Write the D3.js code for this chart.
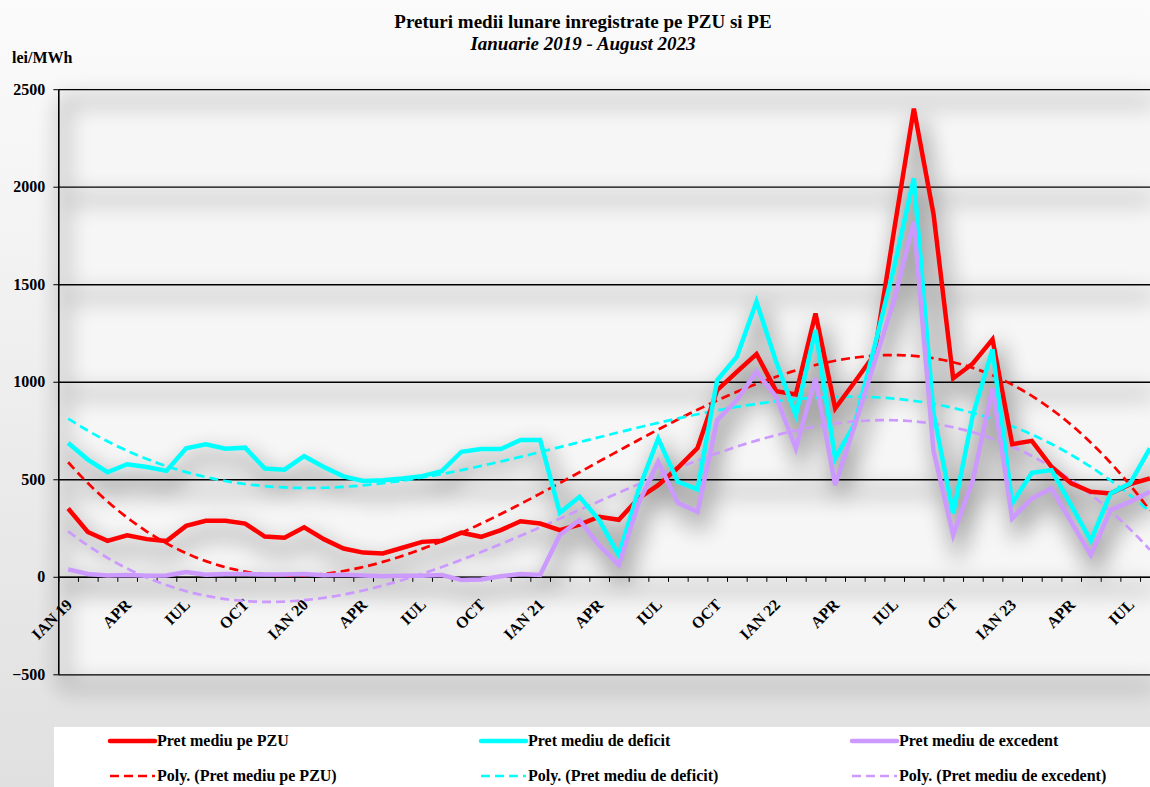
<!DOCTYPE html>
<html>
<head>
<meta charset="utf-8">
<script src="https://cdn.jsdelivr.net/npm/d3@7"></script>
<style>
  html, body { margin: 0; padding: 0; background: #f0f0f0; }
  svg { display: block; font-family: 'Liberation Serif', 'Times New Roman', serif; font-weight: bold; }
  svg text { font-family: 'Liberation Serif', 'Times New Roman', serif; }
</style>
</head>
<body>
<svg id="chart" width="1150" height="787"></svg>
<script>
// monthly averages, Jan 2019 .. Aug 2023 (lei/MWh)
const pzu = [350, 230, 184, 213, 193, 183, 261, 287, 287, 273, 206, 200,
  254, 193, 145, 124, 120, 149, 179, 185, 226, 205, 239, 285,
  273, 239, 268, 308, 292, 402, 470, 559, 660, 957, 1051, 1142,
  952, 935, 1350, 863, 1000, 1140, 1780, 2400, 1860, 1017, 1094, 1217,
  680, 697, 564, 479, 436, 427, 475, 504];
const deficit = [686, 601, 536, 577, 563, 543, 659, 679, 657, 662, 555, 549,
  618, 563, 515, 491, 495, 504, 516, 542, 641, 655, 655, 701,
  701, 328, 410, 291, 111, 444, 709, 487, 448, 1008, 1128, 1410,
  1102, 829, 1265, 607, 786, 1180, 1590, 2043, 840, 325, 829, 1166,
  376, 533, 547, 367, 185, 427, 479, 658];
const excedent = [38, 14, 7, 9, 5, 7, 24, 10, 14, 14, 12, 12,
  14, 8, 10, 7, 3, 5, 5, 9, -17, -14, 3, 14,
  9, 214, 291, 162, 60, 376, 590, 379, 333, 803, 906, 1051,
  923, 658, 1017, 470, 778, 1100, 1420, 1820, 645, 214, 496, 966,
  299, 402, 453, 282, 111, 342, 385, 436];

const months = d3.timeMonth.range(new Date(2019, 0, 1), new Date(2023, 8, 1));
const tickLabels = ['IAN 19', 'APR', 'IUL', 'OCT', 'IAN 20', 'APR', 'IUL', 'OCT',
  'IAN 21', 'APR', 'IUL', 'OCT', 'IAN 22', 'APR', 'IUL', 'OCT', 'IAN 23', 'APR', 'IUL'];
const yTicks = [-500, 0, 500, 1000, 1500, 2000, 2500];
const seriesNames = ['Pret mediu pe PZU', 'Pret mediu de deficit', 'Pret mediu de excedent'];
const seriesColors = ['#ff0000', '#00ffff', '#cc99ff'];
const trendOrder = 3;

const width = 1150;
const height = 787;
const plot = { left: 58.3, right: 1159.7, top: 89.2, bottom: 674.3 };

const svg = d3.select('#chart');

const x = d3.scaleBand()
  .domain(d3.range(months.length))
  .range([plot.left, plot.right]);
const xEdge = d3.scaleLinear()
  .domain([0, months.length])
  .range([plot.left, plot.right]);
const xCont = d3.scaleLinear()
  .domain([0, months.length - 1])
  .range([x(0) + x.bandwidth() / 2, x(months.length - 1) + x.bandwidth() / 2]);
const y = d3.scaleLinear()
  .domain([-500, 2500])
  .range([plot.bottom, plot.top]);

const series = [pzu, deficit, excedent].map((values, k) => ({
  name: seriesNames[k],
  color: seriesColors[k],
  values,
}));

// least squares polynomial, like the excel trendline
function polyfit(values, order) {
  const n = values.length;
  const mid = (n - 1) / 2;
  const ts = values.map((v, i) => (i - mid) / mid);
  const m = order + 1;
  const A = d3.range(m).map(() => new Array(m + 1).fill(0));
  ts.forEach((t, i) => {
    for (let r = 0; r < m; r++) {
      for (let c = 0; c < m; c++) A[r][c] += Math.pow(t, r + c);
      A[r][m] += values[i] * Math.pow(t, r);
    }
  });
  for (let c = 0; c < m; c++) {
    let p = c;
    for (let r = c + 1; r < m; r++) if (Math.abs(A[r][c]) > Math.abs(A[p][c])) p = r;
    [A[c], A[p]] = [A[p], A[c]];
    for (let r = 0; r < m; r++) {
      if (r === c) continue;
      const f = A[r][c] / A[c][c];
      for (let k = c; k <= m; k++) A[r][k] -= f * A[c][k];
    }
  }
  const coef = d3.range(m).map((r) => A[r][m] / A[r][r]);
  return (i) => {
    const t = (i - mid) / mid;
    return coef.reduce((s, a, k) => s + a * Math.pow(t, k), 0);
  };
}

// background
const defs = svg.append('defs');
const bg = defs.append('linearGradient').attr('id', 'bg')
  .attr('x1', 0).attr('y1', 0).attr('x2', 0).attr('y2', 1);
bg.append('stop').attr('offset', 0).attr('stop-color', '#fbfbfb');
bg.append('stop').attr('offset', 1).attr('stop-color', '#e0e0e0');
const blur = defs.append('filter').attr('id', 'shadow')
  .attr('x', '-20%').attr('y', '-20%').attr('width', '140%').attr('height', '140%');
blur.append('feGaussianBlur').attr('stdDeviation', 11);
blur.append('feOffset').attr('dx', 5).attr('dy', 12);

svg.append('rect').attr('width', width).attr('height', height).attr('fill', 'url(#bg)');
svg.append('rect')
  .attr('x', plot.left).attr('y', plot.top)
  .attr('width', plot.right - plot.left).attr('height', plot.bottom - plot.top)
  .attr('fill', '#f6f6f6');

const line = d3.line()
  .x((d, i) => x(i) + x.bandwidth() / 2)
  .y((d) => y(d));

// soft shadows
const shadow = svg.append('g').attr('filter', 'url(#shadow)').attr('opacity', 0.32);
yTicks.forEach((v) => {
  shadow.append('line')
    .attr('x1', plot.left).attr('x2', width)
    .attr('y1', y(v)).attr('y2', y(v))
    .attr('stroke', '#000').attr('stroke-width', 7);
});
shadow.append('line')
  .attr('x1', plot.left).attr('x2', plot.left)
  .attr('y1', plot.top).attr('y2', plot.bottom)
  .attr('stroke', '#000').attr('stroke-width', 8);
series.forEach((s) => {
  shadow.append('path').datum(s.values)
    .attr('d', line).attr('fill', 'none')
    .attr('stroke', '#000').attr('stroke-width', 11);
});

// gridlines
svg.append('g')
  .attr('transform', `translate(${plot.left},0)`)
  .call(d3.axisLeft(y).tickValues(yTicks).tickFormat('').tickSize(-(width - plot.left)).tickSizeOuter(0))
  .call((g) => g.select('.domain').remove())
  .call((g) => g.selectAll('line').attr('stroke', '#000').attr('stroke-width', 1.3));

// y axis
const yAxis = svg.append('g')
  .attr('transform', `translate(${plot.left},0)`)
  .call(d3.axisLeft(y).tickValues(yTicks).tickFormat(d3.format('d')).tickSize(5).tickSizeOuter(0).tickPadding(8))
  .attr('font-family', null)
  .attr('font-size', 16);
yAxis.select('.domain').attr('stroke', '#000').attr('stroke-width', 1.6);
yAxis.selectAll('text')
  .attr('fill', '#000')
  .style('font-family', "'Liberation Serif', 'Times New Roman', serif")
  .style('font-weight', 'bold');

// x axis on zero line
const xAxis = svg.append('g')
  .attr('transform', `translate(0,${y(0)})`)
  .call(d3.axisBottom(xEdge).tickValues(d3.range(months.length + 1)).tickFormat('').tickSize(5).tickSizeOuter(0));
xAxis.select('.domain').attr('stroke', '#000').attr('stroke-width', 1.6);

svg.append('g')
  .selectAll('text')
  .data(tickLabels)
  .join('text')
  .attr('transform', (d, k) => `translate(${x(k * 3) + x.bandwidth() / 2 + 5},${y(0) + 29}) rotate(-45)`)
  .attr('text-anchor', 'end')
  .attr('font-size', 16)
  .text((d) => d);

// trendlines
const trendGroup = svg.append('g');
const samples = d3.range(0, months.length - 1 + 0.001, 0.25);
series.forEach((s) => {
  const f = polyfit(s.values, trendOrder);
  trendGroup.append('path')
    .datum(samples)
    .attr('d', d3.line().x((t) => xCont(t)).y((t) => y(f(t))))
    .attr('fill', 'none')
    .attr('stroke', s.color)
    .attr('stroke-width', 2.7)
    .attr('stroke-dasharray', '9 5');
});

// data lines
svg.append('g')
  .selectAll('path')
  .data(series)
  .join('path')
  .attr('d', (d) => line(d.values))
  .attr('fill', 'none')
  .attr('stroke', (d) => d.color)
  .attr('stroke-width', 4.5)
  .attr('stroke-linejoin', 'miter');

// titles
svg.append('text')
  .attr('x', 583).attr('y', 28)
  .attr('text-anchor', 'middle').attr('font-size', 19)
  .text('Preturi medii lunare inregistrate pe PZU si PE');
svg.append('text')
  .attr('x', 583).attr('y', 50)
  .attr('text-anchor', 'middle').attr('font-size', 19).attr('font-style', 'italic')
  .text('Ianuarie 2019 - August 2023');
svg.append('text')
  .attr('x', 12).attr('y', 63)
  .attr('font-size', 16)
  .text('lei/MWh');

// legend
svg.append('rect')
  .attr('x', 54).attr('y', 727).attr('width', width).attr('height', 80)
  .attr('fill', '#fff');
const legendX = [110, 481, 852];
series.forEach((s, k) => {
  const g = svg.append('g');
  g.append('line')
    .attr('x1', legendX[k]).attr('x2', legendX[k] + 45)
    .attr('y1', 741).attr('y2', 741)
    .attr('stroke', s.color).attr('stroke-width', 4.5).attr('stroke-linecap', 'round');
  g.append('text')
    .attr('x', legendX[k] + 47).attr('y', 746)
    .attr('font-size', 16)
    .text(s.name);
  g.append('line')
    .attr('x1', legendX[k]).attr('x2', legendX[k] + 45)
    .attr('y1', 776).attr('y2', 776)
    .attr('stroke', s.color).attr('stroke-width', 2.7).attr('stroke-dasharray', '9 5');
  g.append('text')
    .attr('x', legendX[k] + 47).attr('y', 781)
    .attr('font-size', 16)
    .text(`Poly. (${s.name})`);
});
</script>
</body>
</html>
